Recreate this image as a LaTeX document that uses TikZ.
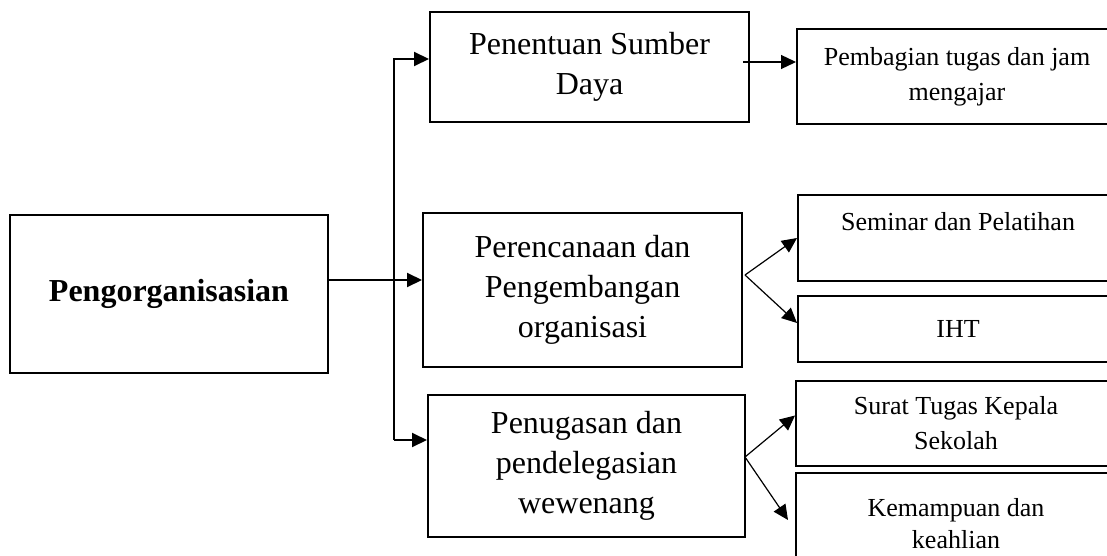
\documentclass[tikz,border=0pt]{standalone}
\usepackage{fontspec}
\setmainfont{Liberation Serif}
\usetikzlibrary{arrows.meta}

\begin{document}
\begin{tikzpicture}[x=0.5pt,y=-0.5pt,>={Triangle[length=7.5pt,width=7pt]},
  box/.style={draw, line width=1pt, inner sep=0pt, align=center, font=\fontsize{16}{20}\selectfont},
  sub/.style={box, minimum width=160pt, font=\fontsize{13}{17.5}\selectfont},
  bus/.style={line width=1pt},
  thin/.style={line width=0.6pt}]
\useasboundingbox (0,0) rectangle (1107,556);

% left and middle column
\node[box, minimum width=159pt, minimum height=79pt, font=\fontsize{16}{20}\selectfont\bfseries] (org) at (169,294) {Pengorganisasian};
\node[box, minimum width=159.5pt, minimum height=55pt] (sumber) at (589.5,67) {Penentuan Sumber\\Daya};
\node[box, minimum width=159.5pt, minimum height=77pt] (rencana) at (582.5,290) {Perencanaan dan\\Pengembangan\\organisasi};
\node[box, minimum width=158.5pt, minimum height=71pt] (tugas) at (586.5,466) {Penugasan dan\\pendelegasian\\wewenang};

% right column
\node[sub, minimum height=47.5pt] (bagi) at (957,76.5) {Pembagian tugas dan jam\\mengajar};
\node[sub, text height=17.5pt, text depth=25.5pt] (seminar) at (958,238) {Seminar dan Pelatihan};
\node[sub, minimum height=33pt] (iht) at (958,329) {IHT};
\node[sub, minimum height=42.5pt] (surat) at (956,423.5) {Surat Tugas Kepala\\Sekolah};
\node[sub, minimum height=51pt, font=\fontsize{13}{16}\selectfont] (mampu) at (956,524) {Kemampuan dan\\keahlian};

% bus
\coordinate (bus) at (394,280);
\coordinate (bustop) at (394,59);
\coordinate (busbot) at (394,440);
\draw[bus,->] (org.east |- bus) -- (rencana.west |- bus);
\draw[bus,->] (busbot) -- (bustop) -- (sumber.west |- bustop);
\draw[bus,->] (busbot) -- (tugas.west |- busbot);

% forks to the right
\coordinate (s1) at (743,62);
\coordinate (f1) at (745,275);
\coordinate (f2) at (745,457);
\coordinate (k) at (788,520);
\draw[thin,->] (s1) -- (bagi.west |- s1);
\draw[thin,->] (f1) -- (seminar.west);
\draw[thin,->] (f1) -- ([yshift=3pt]iht.west);
\draw[thin,->] (f2) -- ([yshift=4pt]surat.west);
\draw[thin,->] (f2) -- (k);
\end{tikzpicture}
\end{document}
